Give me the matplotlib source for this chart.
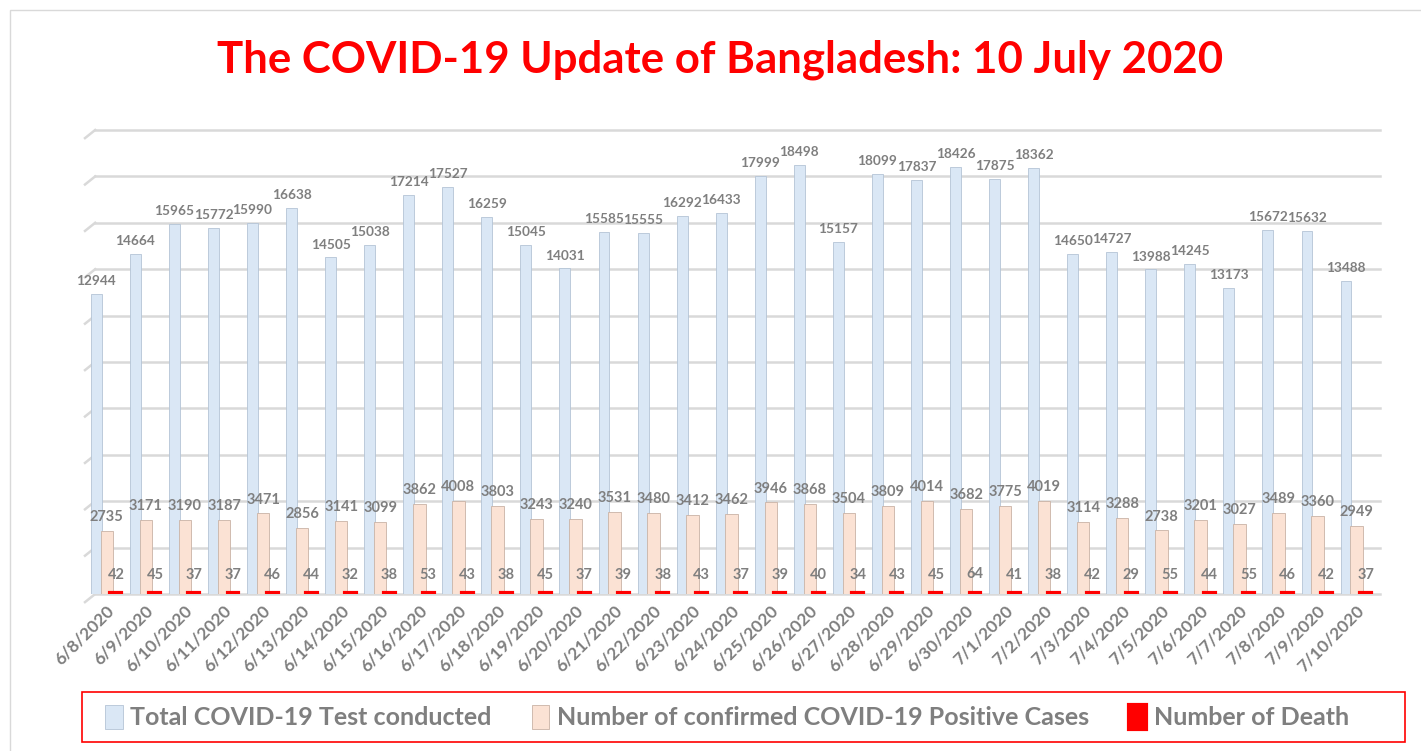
import matplotlib.pyplot as plt
import matplotlib.patches as mpatches
import numpy as np

plt.rcParams['font.family'] = ['Lato', 'DejaVu Sans']

dates = ["6/8/2020", "6/9/2020", "6/10/2020", "6/11/2020", "6/12/2020", "6/13/2020",
         "6/14/2020", "6/15/2020", "6/16/2020", "6/17/2020", "6/18/2020", "6/19/2020",
         "6/20/2020", "6/21/2020", "6/22/2020", "6/23/2020", "6/24/2020", "6/25/2020",
         "6/26/2020", "6/27/2020", "6/28/2020", "6/29/2020", "6/30/2020", "7/1/2020",
         "7/2/2020", "7/3/2020", "7/4/2020", "7/5/2020", "7/6/2020", "7/7/2020",
         "7/8/2020", "7/9/2020", "7/10/2020"]
tests = [12944, 14664, 15965, 15772, 15990, 16638, 14505, 15038, 17214, 17527, 16259,
         15045, 14031, 15585, 15555, 16292, 16433, 17999, 18498, 15157, 18099, 17837,
         18426, 17875, 18362, 14650, 14727, 13988, 14245, 13173, 15672, 15632, 13488]
cases = [2735, 3171, 3190, 3187, 3471, 2856, 3141, 3099, 3862, 4008, 3803, 3243, 3240,
         3531, 3480, 3412, 3462, 3946, 3868, 3504, 3809, 4014, 3682, 3775, 4019, 3114,
         3288, 2738, 3201, 3027, 3489, 3360, 2949]
deaths = [42, 45, 37, 37, 46, 44, 32, 38, 53, 43, 38, 45, 37, 39, 38, 43, 37, 39, 40, 34,
          43, 45, 64, 41, 38, 42, 29, 55, 44, 55, 46, 42, 37]

series_names = ["Total COVID-19 Test conducted",
                "Number of confirmed COVID-19 Positive Cases",
                "Number of Death"]
colors = ["#dae7f5", "#fbe2d4", "#ff0000"]
label_color = "#7f7f7f"

fig = plt.figure(figsize=(14.21, 7.51), dpi=100)
ax = fig.add_axes([85 / 1421, 157 / 751, 1295 / 1421, 464 / 751])

x = np.arange(len(dates))

# gridlines with a small perspective stub at the left
for v in range(0, 20001, 2000):
    ax.plot([-0.28, len(dates) - 0.38], [v, v], color="#d9d9d9", lw=1.8, zorder=0, clip_on=False)
    ax.plot([-0.54, -0.28], [v - 350, v], color="#d9d9d9", lw=1.8, zorder=0, clip_on=False)

b1 = ax.bar(x - 0.25, tests, width=0.28, color=colors[0], edgecolor="#b4c4d6", lw=0.6, zorder=2)
b2 = ax.bar(x + 0.02, cases, width=0.32, color=colors[1], edgecolor="#c9b3a6", lw=0.6, zorder=3)
b3 = ax.bar(x + 0.25, deaths, width=0.28, color=colors[2], edgecolor=colors[2], lw=3, zorder=4)

for xi, v in zip(x, tests):
    ax.annotate(str(v), (xi - 0.25, v), xytext=(0, 5), textcoords="offset points",
                ha="center", va="bottom", fontsize=9.8, fontweight="bold", color=label_color)
for xi, v in zip(x, cases):
    ax.annotate(str(v), (xi + 0.02, v), xytext=(0, 5), textcoords="offset points",
                ha="center", va="bottom", fontsize=10.5, fontweight="bold", color=label_color)
for xi, v in zip(x, deaths):
    ax.annotate(str(v), (xi + 0.25, v), xytext=(0, 8), textcoords="offset points",
                ha="center", va="bottom", fontsize=10.5, fontweight="bold", color=label_color)

ax.set_xlim(-0.54, 32.62)
ax.set_ylim(0, 20000)
ax.set_yticks([])
ax.set_xticks(x)
ax.set_xticklabels(dates, rotation=45, ha="right", rotation_mode="anchor",
                   fontsize=12.5, fontweight="bold", color=label_color)
ax.tick_params(axis="x", length=0, pad=6)
for s in ax.spines.values():
    s.set_visible(False)

fig.suptitle("The COVID-19 Update of Bangladesh: 10 July 2020", x=0.507, y=1 - 60 / 751,
             va="center", fontsize=31.5, fontweight="bold", color="#ff0000")

# outer chart border
fig.patches.append(mpatches.Rectangle((10 / 1421, -0.01), 1.02, 741 / 751 + 0.01,
                                      transform=fig.transFigure, fill=False,
                                      edgecolor="#d9d9d9", lw=1))
# legend box
fig.patches.append(mpatches.Rectangle((82 / 1421, 9 / 751), 1323 / 1421, 50 / 751,
                                      transform=fig.transFigure, fill=False,
                                      edgecolor="#ff0000", lw=1.2))
fig.legend([b1, b2, b3], series_names, loc="center", bbox_to_anchor=(727 / 1421, 34 / 751),
           ncol=3, frameon=False, handlelength=0.7, handleheight=1.1, handletextpad=0.3,
           columnspacing=1.6, prop={"size": 18, "weight": "bold"}, labelcolor=label_color)

fig.savefig("out.png", dpi=100)
